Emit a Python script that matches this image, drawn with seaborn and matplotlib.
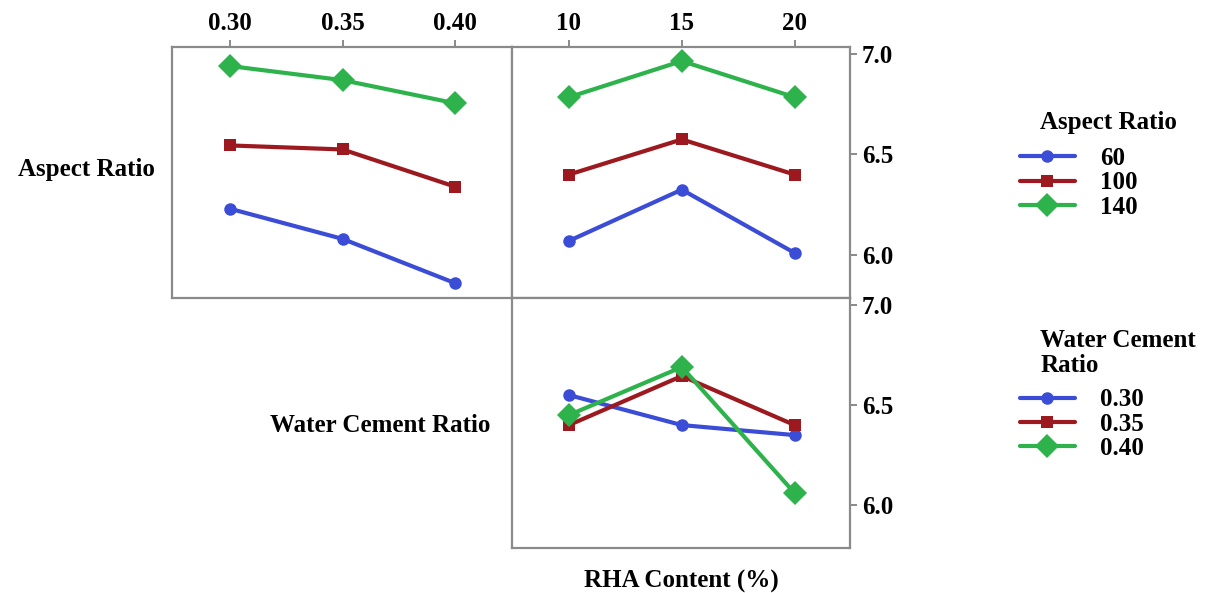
import pandas as pd
import matplotlib.pyplot as plt
import seaborn as sns

# factor levels
wc_levels = [0.30, 0.35, 0.40]
rha_levels = [10, 15, 20]
ar_levels = [60, 100, 140]

# mean response
ar60_vs_wc = [6.23, 6.08, 5.86]
ar100_vs_wc = [6.545, 6.525, 6.34]
ar140_vs_wc = [6.94, 6.87, 6.755]

ar60_vs_rha = [6.07, 6.325, 6.01]
ar100_vs_rha = [6.40, 6.575, 6.40]
ar140_vs_rha = [6.785, 6.965, 6.785]

wc30_vs_rha = [6.55, 6.40, 6.35]
wc35_vs_rha = [6.40, 6.645, 6.40]
wc40_vs_rha = [6.45, 6.69, 6.06]

wc_labels = ['0.30', '0.35', '0.40']
rha_labels = ['10', '15', '20']
ar_names = ['60', '100', '140']

colors = ['#3b4cd6', '#9c1a1f', '#2eb34c']
markers = ['o', 's', 'D']
grey = '#8a8a8a'

sns.set_style('white')
plt.rcParams['font.family'] = ['Liberation Serif', 'DejaVu Serif']
plt.rcParams['font.weight'] = 'bold'
plt.rcParams['text.color'] = 'black'
plt.rcParams['axes.labelcolor'] = 'black'
fs = 18


def long_df(xvals, series, names, xname, hname):
    rows = []
    for name, ys in zip(names, series):
        for x, y in zip(xvals, ys):
            rows.append({xname: x, hname: name, 'y': y})
    return pd.DataFrame(rows)


df_tl = long_df(wc_levels, [ar60_vs_wc, ar100_vs_wc, ar140_vs_wc], ar_names, 'wc', 'ar')
df_tr = long_df(rha_levels, [ar60_vs_rha, ar100_vs_rha, ar140_vs_rha], ar_names, 'rha', 'ar')
df_br = long_df(rha_levels, [wc30_vs_rha, wc35_vs_rha, wc40_vs_rha], wc_labels, 'rha', 'wc')

fig = plt.figure(figsize=(12.11, 5.93), dpi=100)
ax_tl = fig.add_axes([0.142, 0.4975, 0.2808, 0.4233])
ax_tr = fig.add_axes([0.4228, 0.4975, 0.2791, 0.4233])
ax_br = fig.add_axes([0.4228, 0.0759, 0.2791, 0.4216])

ylo, yhi = 5.786, 7.035


def draw(ax, df, x, hue, order):
    sns.lineplot(data=df, x=x, y='y', hue=hue, style=hue, hue_order=order, style_order=order,
                 palette=colors, markers=markers, dashes=False, lw=3, markersize=9,
                 markeredgewidth=0, ax=ax)
    for line in ax.lines:
        if line.get_marker() == 'D':
            line.set_markersize(12)
    ax.set_ylim(ylo, yhi)
    ax.set_xlabel('')
    ax.set_ylabel('')
    for s in ax.spines.values():
        s.set_color(grey)
        s.set_linewidth(1.6)
    ax.tick_params(colors=grey, labelcolor='black', labelsize=fs, length=5, width=1.4)
    h, l = ax.get_legend_handles_labels()
    ax.get_legend().remove()
    return h, l


h_ar, l_ar = draw(ax_tl, df_tl, 'wc', 'ar', ar_names)
ax_tl.set_xlim(0.2742, 0.4253)
ax_tl.xaxis.tick_top()
ax_tl.set_xticks(wc_levels, wc_labels)
ax_tl.set_yticks([])

draw(ax_tr, df_tr, 'rha', 'ar', ar_names)
ax_tr.set_xlim(7.48, 22.45)
ax_tr.xaxis.tick_top()
ax_tr.set_xticks(rha_levels, rha_labels)
ax_tr.yaxis.tick_right()
ax_tr.set_yticks([6.0, 6.5, 7.0], ['6.0', '6.5', '7.0'])

h_wc, l_wc = draw(ax_br, df_br, 'rha', 'wc', wc_labels)
ax_br.set_xlim(7.48, 22.45)
ax_br.set_xticks([])
ax_br.yaxis.tick_right()
ax_br.set_yticks([6.0, 6.5, 7.0], ['6.0', '6.5', '7.0'])
ax_br.set_xlabel('RHA Content (%)', fontsize=fs, fontweight='bold', labelpad=16)

fig.text(0.128, 0.715, 'Aspect Ratio', ha='right', va='center', fontsize=fs, fontweight='bold')
fig.text(0.405, 0.283, 'Water Cement Ratio', ha='right', va='center', fontsize=fs, fontweight='bold')

for h in h_ar + h_wc:
    h.set_linewidth(3)

# legend titles as plain text, entries as legends
fig.text(0.859, 0.793, 'Aspect Ratio', ha='left', va='center', fontsize=fs, fontweight='bold')
fig.text(0.859, 0.405, 'Water Cement\nRatio', ha='left', va='center', fontsize=fs, fontweight='bold',
         linespacing=1.1)

fig.legend(h_ar, l_ar, loc='upper left', bbox_to_anchor=(0.842, 0.752),
           frameon=False, fontsize=fs, handlelength=2.2, handletextpad=1.0,
           labelspacing=0.05, borderpad=0, borderaxespad=0)
fig.legend(h_wc, l_wc, loc='upper left', bbox_to_anchor=(0.842, 0.345),
           frameon=False, fontsize=fs, handlelength=2.2, handletextpad=1.0,
           labelspacing=0.05, borderpad=0, borderaxespad=0)

fig.savefig('out.png', dpi=100)
